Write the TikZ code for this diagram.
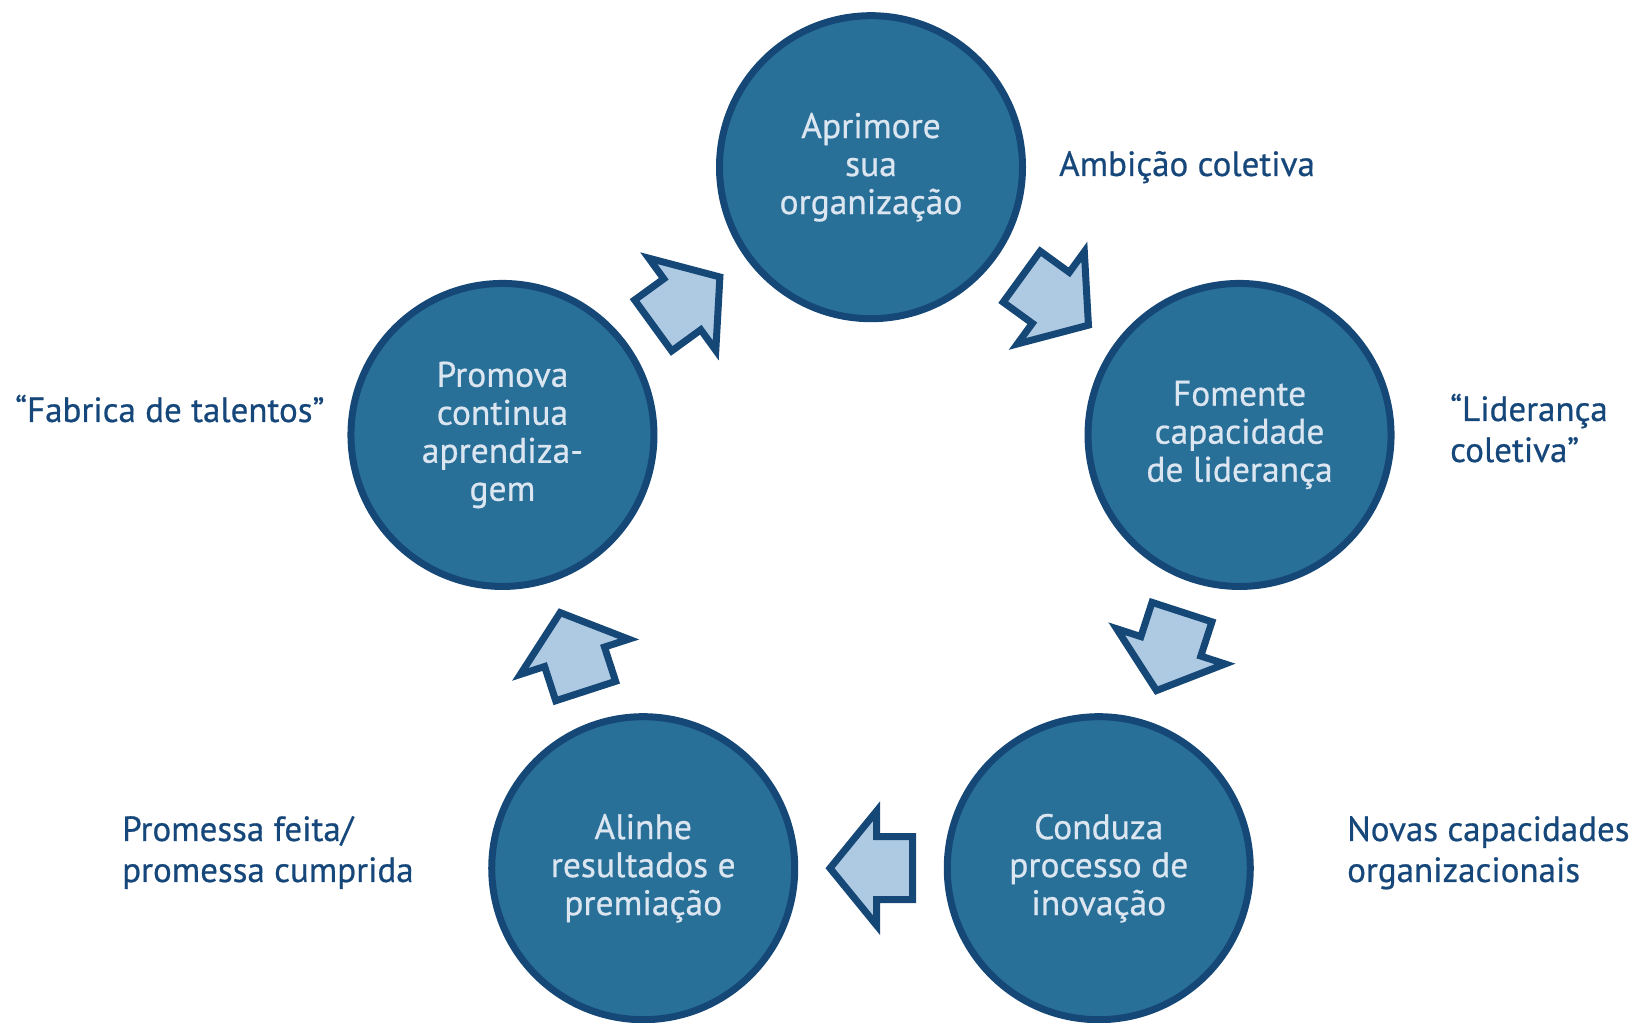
\documentclass[tikz,border=0pt]{standalone}
\usepackage{fontspec}
\setmainfont{PT Sans}
\newfontfamily\diagfont{PT Sans}[FakeBold=0.6]
\usetikzlibrary{calc}
\definecolor{circfill}{RGB}{41,112,153}
\definecolor{darkline}{RGB}{21,72,118}
\definecolor{arrfill}{RGB}{174,202,227}
\definecolor{circtext}{RGB}{220,230,241}
\definecolor{outtext}{RGB}{22,71,122}
\begin{document}
\begin{tikzpicture}[x=1pt,y=1pt,
  stage/.style={circle, draw=darkline, line width=7pt, fill=circfill, minimum size=303pt, inner sep=0pt, align=center, text=circtext, font=\diagfont\fontsize{35.5}{38}\selectfont},
  blockarr/.style={draw=darkline, line width=7pt, fill=arrfill, line join=miter},
  note/.style={text=outtext, font=\diagfont\fontsize{35}{41}\selectfont, align=left, inner sep=0pt, anchor=base west}]
\useasboundingbox (0,0) rectangle (1647,1023);
\coordinate (c) at (871,468.3);
\node[stage] (s1) at ($(c)+(90:387.5)$) {Aprimore\\sua\\organização};
\node[stage] (s2) at ($(c)+(18:387.5)$) {Fomente\\capacidade\\de liderança};
\node[stage] (s3) at ($(c)+(-54:387.5)$) {Conduza\\processo de\\inovação};
\node[stage] (s4) at ($(c)+(-126:387.5)$) {Alinhe\\resultados e\\premiação};
\node[stage] (s5) at ($(c)+(162:387.5)$) {Promova\\continua\\aprendiza-\\gem};
\foreach \a/\b/\ang in {s1/s2/-36, s2/s3/-108, s3/s4/180, s4/s5/108, s5/s1/36}
  \draw[blockarr, shift={($(\a)!0.5!(\b)$)}, rotate=\ang]
    (-41.5,-31.5) -- (-5.5,-31.5) -- (-5.5,-57) -- (41,0) -- (-5.5,57) -- (-5.5,31.5) -- (-41.5,31.5) -- cycle;
\node[note] (n1) at (1059,847) {Ambição coletiva};
\node[note] (n2) at (1450,561) {“Liderança\\coletiva”};
\node[note] (n3) at (1347,141) {Novas capacidades\\organizacionais};
\node[note] (n4) at (122,141) {Promessa feita/\\promessa cumprida};
\node[note] (n5) at (15,601) {“Fabrica de talentos”};
\end{tikzpicture}
\end{document}
